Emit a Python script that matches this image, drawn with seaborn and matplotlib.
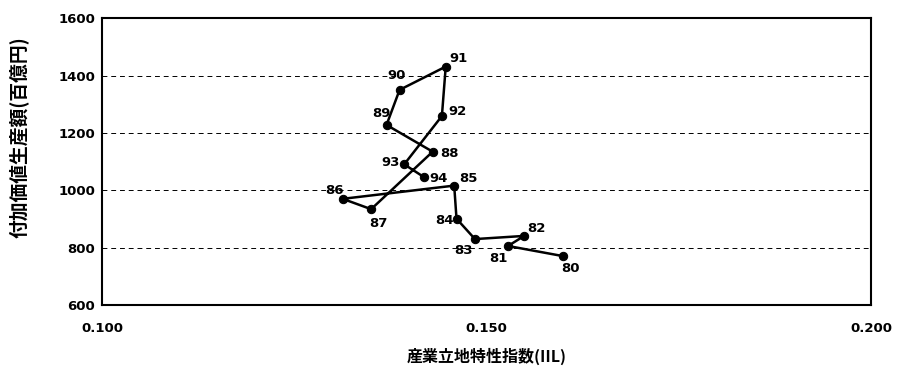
import matplotlib
matplotlib.use("Agg")
import matplotlib.pyplot as plt
import seaborn as sns
import pandas as pd

years = ["80", "81", "82", "83", "84", "85", "86", "87", "88", "89", "90", "91", "92", "93", "94"]
iil = [0.1599, 0.1528, 0.1549, 0.1485, 0.1461, 0.1458, 0.1313, 0.1350, 0.1430,
       0.1370, 0.1387, 0.1447, 0.1442, 0.1393, 0.1419]
value_added = [772, 807, 842, 831, 902, 1017, 971, 935, 1135, 1228, 1350, 1431, 1259, 1091, 1046]
x_ticks = [0.100, 0.150, 0.200]
x_tick_labels = ["0.100", "0.150", "0.200"]
y_ticks = [600, 800, 1000, 1200, 1400, 1600]

# label offsets in points (dx, dy)
offsets = {
    "80": (6, -9), "81": (-7, -9), "82": (9, 5), "83": (-8, -8), "84": (-9, -1),
    "85": (10, 5), "86": (-6, 6), "87": (5, -10), "88": (12, -1), "89": (-4, 8),
    "90": (-2, 10), "91": (9, 6), "92": (11, 3), "93": (-10, 1), "94": (10, -1),
}

sns.set_theme(style="white")
plt.rcParams['font.family'] = ['Noto Sans CJK JP', 'DejaVu Sans']
plt.rcParams['text.color'] = 'black'
plt.rcParams['axes.labelcolor'] = 'black'
plt.rcParams['xtick.color'] = 'black'
plt.rcParams['ytick.color'] = 'black'

df = pd.DataFrame({"year": years, "iil": iil, "va": value_added})

fig = plt.figure(figsize=(9.01, 3.72), dpi=100)
ax = fig.add_axes([0.1132, 0.1788, 0.8535, 0.7728])

for y in [800, 1000, 1200, 1400]:
    ax.axhline(y, color="black", linestyle=(0, (5, 4)), linewidth=0.7, zorder=0)

sns.lineplot(data=df, x="iil", y="va", sort=False, estimator=None, ax=ax,
             color="black", linewidth=1.8, marker="o", markersize=6,
             markeredgecolor="black", markerfacecolor="black")

for yr, xv, yv in zip(years, iil, value_added):
    dx, dy = offsets[yr]
    ax.annotate(yr, (xv, yv), xytext=(dx, dy), textcoords="offset points",
                ha="center", va="center", fontsize=9.5, fontweight="bold",
                family="DejaVu Sans", color="black")

ax.set_xlim(0.100, 0.200)
ax.set_ylim(600, 1600)
ax.set_xticks(x_ticks)
ax.set_xticklabels(x_tick_labels)
ax.set_yticks(y_ticks)
for lab in ax.get_xticklabels() + ax.get_yticklabels():
    lab.set_fontweight("bold")
    lab.set_fontsize(9.5)
    lab.set_family("DejaVu Sans")
ax.tick_params(axis="both", length=0, pad=5)
ax.tick_params(axis="x", pad=12)

for s in ax.spines.values():
    s.set_color("black")
    s.set_linewidth(1.5)

ax.set_xlabel("産業立地特性指数(IIL)", fontsize=11.5, fontweight="bold", labelpad=9)
ax.set_ylabel("付加価値生産額(百億円)", fontsize=13.5, fontweight="bold")
ax.yaxis.set_label_coords(-0.095, 0.585)

fig.savefig("out.png", dpi=100)
